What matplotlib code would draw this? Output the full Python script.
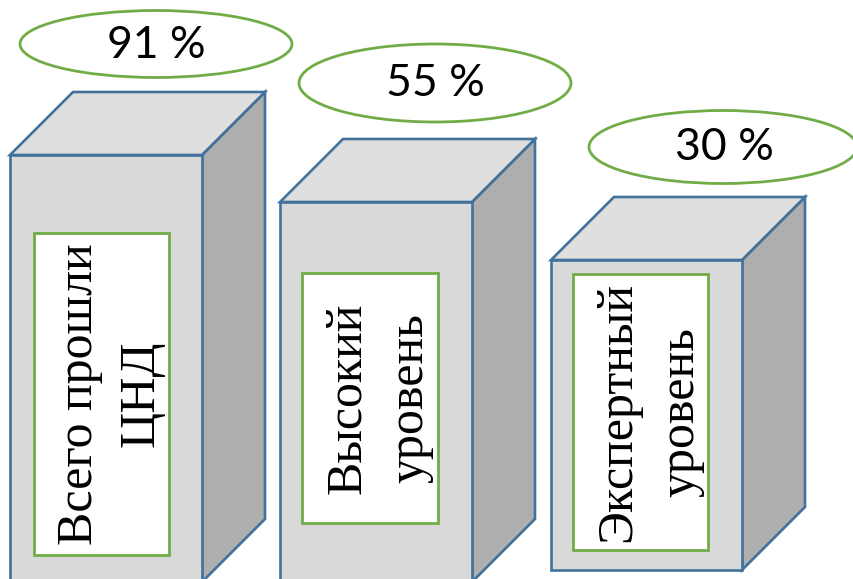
import matplotlib
matplotlib.use("Agg")
import matplotlib.pyplot as plt
from matplotlib.patches import Polygon, Rectangle, Ellipse

# ---- data ----
values = [91, 55, 30]
labels = ["Всего прошли\nЦНД", "Высокий\nуровень", "Экспертный\nуровень"]
value_labels = [f"{v} %" for v in values]

# ---- layout (pixel coords) ----
W, H = 854, 579
box_left = [10, 280, 551]
box_width = [192, 192, 191]
box_top = [155, 202, 260]
box_bottom = [582, 582, 570]
depth = 63
inner_rects = [(34, 233, 169, 555), (302, 273, 438, 523), (573, 274, 708, 550)]
ellipses = [(156, 44, 272, 67), (435, 83, 272, 78), (723, 147, 268, 73)]
text_pos = [(156, 45), (435, 84), (724, 148)]

blue = "#41719C"
green = "#70AD47"

fig = plt.figure(figsize=(W / 100, H / 100), dpi=100)
ax = fig.add_axes([0, 0, 1, 1])
ax.set_xlim(0, W)
ax.set_ylim(H, 0)
ax.axis("off")

for i in range(len(values)):
    x0 = box_left[i]
    x1 = x0 + box_width[i]
    yt = box_top[i]
    yb = box_bottom[i]
    d = depth
    front = Rectangle((x0, yt), x1 - x0, yb - yt, facecolor="#D9D9D9",
                      edgecolor=blue, lw=1.9, zorder=2)
    top = Polygon([(x0, yt), (x0 + d, yt - d), (x1 + d, yt - d), (x1, yt)],
                  closed=True, facecolor="#DEDEDE", edgecolor=blue, lw=1.9,
                  joinstyle="miter", zorder=2)
    side = Polygon([(x1, yt), (x1 + d, yt - d), (x1 + d, yb - d), (x1, yb)],
                   closed=True, facecolor="#AEAEAE", edgecolor=blue, lw=1.9,
                   joinstyle="miter", zorder=2)
    ax.add_patch(side)
    ax.add_patch(top)
    ax.add_patch(front)

    rx0, ry0, rx1, ry1 = inner_rects[i]
    ax.add_patch(Rectangle((rx0, ry0), rx1 - rx0, ry1 - ry0, facecolor="white",
                           edgecolor=green, lw=2.0, zorder=3))
    ax.text((rx0 + rx1) / 2 + 9, (ry0 + ry1) / 2, labels[i], rotation=90,
            ha="center", va="center", multialignment="center",
            family="Liberation Serif", fontsize=36, linespacing=1.45, zorder=4)

    ex, ey, ew, eh = ellipses[i]
    ax.add_patch(Ellipse((ex, ey), ew, eh, facecolor="white", edgecolor=green,
                         lw=2.0, zorder=5, clip_on=False))
    tx, ty = text_pos[i]
    ax.text(tx, ty, value_labels[i], ha="center", va="center",
            family="Lato", fontsize=32, zorder=6)

fig.savefig("out.png", dpi=100)
